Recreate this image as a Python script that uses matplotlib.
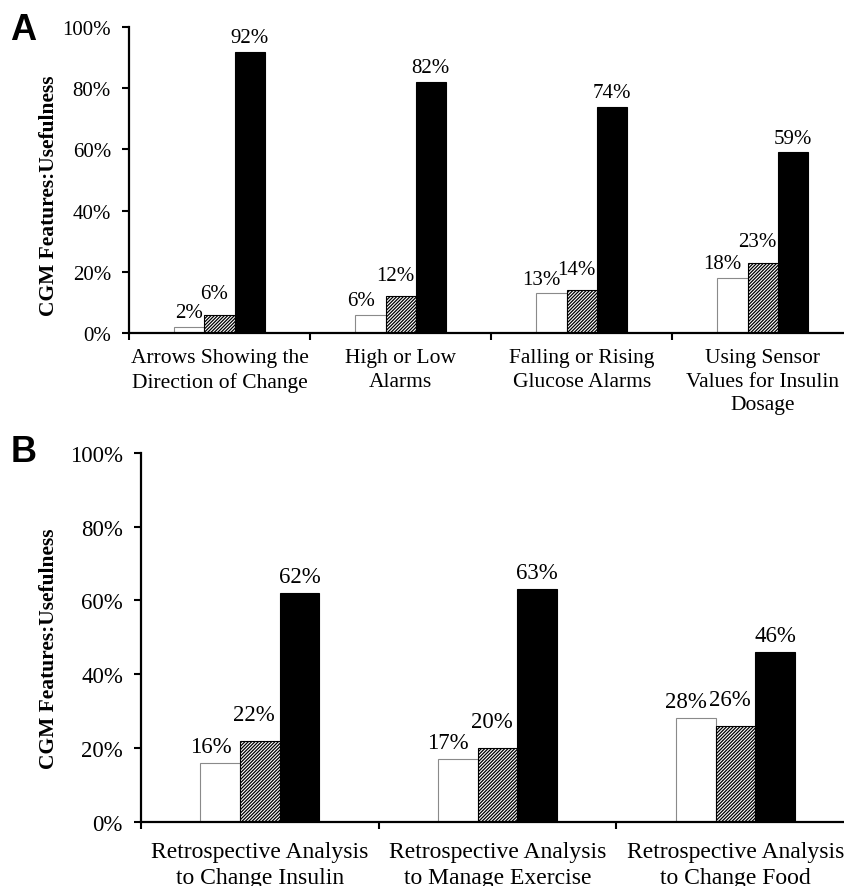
import matplotlib.pyplot as plt
import numpy as np

plt.rcParams["hatch.linewidth"] = 0.9

# panel A
CATEGORIES_A = [
    "Arrows Showing the\nDirection of Change",
    "High or Low\nAlarms",
    "Falling or Rising\nGlucose Alarms",
    "Using Sensor\nValues for Insulin\nDosage",
]
WHITE_A = [2, 6, 13, 18]
HATCH_A = [6, 12, 14, 23]
BLACK_A = [92, 82, 74, 59]

# panel B
CATEGORIES_B = [
    "Retrospective Analysis\nto Change Insulin",
    "Retrospective Analysis\nto Manage Exercise",
    "Retrospective Analysis\nto Change Food",
]
WHITE_B = [16, 17, 28]
HATCH_B = [22, 20, 26]
BLACK_B = [62, 63, 46]

Y_TICKS = [0, 20, 40, 60, 80, 100]
Y_LABEL = "CGM Features:Usefulness"

SERIF = "Liberation Serif"
WIDTH = 1 / 6

# label nudges (points) per series: white, hatched, black
LABEL_DX = [-7, -4, 0]


def draw_panel(ax, categories, white, hatched, black, size, cat_size,
               label_dy, cat_pad, ylabel_xy):
    x = np.arange(len(categories))
    series = [
        (white, dict(color="white", edgecolor="#8a8a8a", linewidth=0.8)),
        (hatched, dict(color="white", edgecolor="black", hatch="//////////",
                       linewidth=0.8)),
        (black, dict(color="black", edgecolor="black", linewidth=0.8)),
    ]
    for i, (values, style) in enumerate(series):
        bars = ax.bar(x + (i - 1) * WIDTH, values, WIDTH, **style)
        for bar, v in zip(bars, values):
            dx = LABEL_DX[i] if v > 3 else 0
            ax.annotate(
                f"{v}%",
                (bar.get_x() + bar.get_width() / 2, v),
                xytext=(dx, label_dy[i]),
                textcoords="offset points",
                ha="center",
                va="baseline",
                fontsize=size,
                family=SERIF,
            )

    ax.set_xlim(-0.5, len(categories) - 0.5)
    ax.set_ylim(0, 100)
    ax.set_yticks(Y_TICKS)
    ax.set_yticklabels([f"{t}%" for t in Y_TICKS], family=SERIF, fontsize=size)

    # boundary ticks between categories, labels at centres
    ax.set_xticks(np.arange(len(categories) + 1) - 0.5)
    ax.set_xticklabels([])
    ax.set_xticks(x, minor=True)
    ax.set_xticklabels(categories, minor=True, family=SERIF, fontsize=cat_size,
                       linespacing=1.3)
    ax.tick_params(axis="x", which="minor", length=0, pad=cat_pad)
    ax.tick_params(axis="x", which="major", length=5, width=1.5, direction="out")
    ax.tick_params(axis="y", length=5, width=1.5, direction="out", pad=8)

    for side in ["top", "right"]:
        ax.spines[side].set_visible(False)
    for side in ["left", "bottom"]:
        ax.spines[side].set_linewidth(1.6)

    ax.set_ylabel(Y_LABEL, family=SERIF, fontsize=15.5, fontweight="bold")
    ax.yaxis.set_label_coords(*ylabel_xy)


fig = plt.figure(figsize=(8.45, 8.87), dpi=100)

ax_a = fig.add_axes([0.1527, 0.6234, 0.857, 0.345])
draw_panel(ax_a, CATEGORIES_A, WHITE_A, HATCH_A, BLACK_A,
           size=15, cat_size=15.5, label_dy=[7, 12, 7], cat_pad=11,
           ylabel_xy=(-0.097, 0.451))

ax_b = fig.add_axes([0.1669, 0.0725, 0.844, 0.4157])
draw_panel(ax_b, CATEGORIES_B, WHITE_B, HATCH_B, BLACK_B,
           size=16.5, cat_size=17, label_dy=[8, 15, 8], cat_pad=14,
           ylabel_xy=(-0.115, 0.473))

fig.text(0.012, 0.985, "A", family="Liberation Sans", fontweight="bold",
         fontsize=26, va="top", ha="left")
fig.text(0.012, 0.510, "B", family="Liberation Sans", fontweight="bold",
         fontsize=26, va="top", ha="left")

fig.savefig("out.png", dpi=100)
